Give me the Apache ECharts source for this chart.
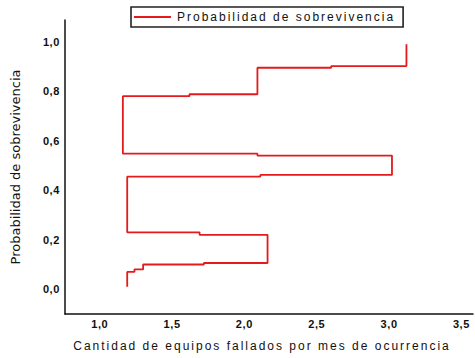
<!DOCTYPE html>
<html>
<head>
<meta charset="utf-8">
<script src="https://cdn.jsdelivr.net/npm/echarts@6/dist/echarts.min.js"></script>
<style>
  html, body { margin: 0; padding: 0; background: #fff; }
  #chart { width: 475px; height: 358px; }
  #chart text[style*="12px"] { letter-spacing: 2px; }
  #chart text[style*="11px"] { letter-spacing: 0.6px; }
</style>
</head>
<body>
<div id="chart"></div>
<script>
// x position of each vertical segment of the step line (Cantidad de equipos fallados)
const cantidad = [1.19, 1.24, 1.30, 1.72, 2.16, 1.69, 1.19, 2.11, 3.02, 2.09, 1.16, 1.62, 2.09, 2.60, 3.12];
// successive probability levels (one more than cantidad)
const probabilidad = [0.01, 0.07, 0.08, 0.10, 0.106, 0.22, 0.23, 0.455, 0.462, 0.54, 0.548, 0.78, 0.788, 0.895, 0.902, 0.99];
const xTicks = [1.0, 1.5, 2.0, 2.5, 3.0, 3.5];
const yTicks = [0.0, 0.2, 0.4, 0.6, 0.8, 1.0];
const seriesName = 'Probabilidad de sobrevivencia';
const xTitle = 'Cantidad de equipos fallados por mes de ocurrencia';
const yTitle = 'Probabilidad de sobrevivencia';

const points = [];
for (let i = 0; i < cantidad.length; i++) {
  points.push([cantidad[i], probabilidad[i]]);
  points.push([cantidad[i], probabilidad[i + 1]]);
}

const fmt = v => v.toFixed(1).replace('.', ',');

const chart = echarts.init(document.getElementById('chart'), null, { renderer: 'svg' });
chart.setOption({
  animation: false,
  backgroundColor: '#fff',
  grid: { left: 65, top: 20, right: 2, bottom: 44, containLabel: false },
  legend: {
    left: 131, top: 7,
    data: [{ name: seriesName, icon: 'rect' }],
    itemWidth: 37, itemHeight: 2, itemGap: 0,
    borderColor: '#222', borderWidth: 1.6,
    padding: [4, 66, 4, 3],
    textStyle: { fontFamily: 'Liberation Sans', fontSize: 12, color: '#111', padding: [0, 0, 0, 1] }
  },
  xAxis: {
    type: 'value', min: 0.76, max: 3.58,
    name: xTitle, nameLocation: 'middle', nameGap: 26,
    nameTextStyle: { fontFamily: 'Liberation Sans', fontSize: 12, color: '#111', padding: [0, 14, 0, 0] },
    axisLine: { show: true, onZero: false, lineStyle: { color: '#111', width: 1.5 } },
    axisTick: { show: false },
    splitLine: { show: false },
    axisLabel: {
      customValues: xTicks, formatter: fmt, margin: 4,
      fontFamily: 'Liberation Sans', fontSize: 11, fontWeight: 'bold', color: '#111'
    }
  },
  yAxis: {
    type: 'value', min: -0.1, max: 1.088,
    name: yTitle, nameLocation: 'middle', nameGap: 43,
    nameTextStyle: { fontFamily: 'DejaVu Sans', fontSize: 13, color: '#111' },
    axisLine: { show: true, onZero: false, lineStyle: { color: '#111', width: 1.5 } },
    axisTick: { show: false },
    splitLine: { show: false },
    axisLabel: {
      customValues: yTicks, formatter: fmt, margin: 5,
      fontFamily: 'Liberation Sans', fontSize: 11, fontWeight: 'bold', color: '#111'
    }
  },
  series: [{
    name: seriesName, type: 'line', data: points,
    symbol: 'none', showSymbol: false,
    lineStyle: { color: '#e41a1c', width: 1.8 },
    itemStyle: { color: '#e41a1c' }
  }]
});
</script>
</body>
</html>
